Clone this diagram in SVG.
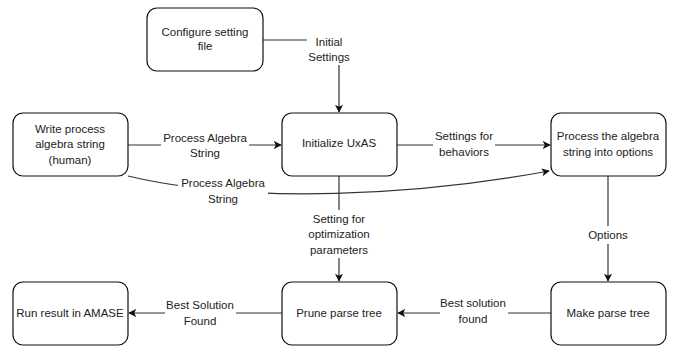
<svg xmlns="http://www.w3.org/2000/svg" width="676" height="349" viewBox="0 0 676 349">
<defs>
<marker id="arr" viewBox="0 0 10 10" refX="9" refY="5" markerWidth="8" markerHeight="8" markerUnits="userSpaceOnUse" orient="auto">
<path d="M0,0 L10,5 L0,10 L2.5,5 z" fill="#111"/>
</marker>
<style>
.box{fill:#fff;stroke:#111;stroke-width:1.2}
.t{font-family:"Liberation Sans",Arial,sans-serif;font-size:11.5px;fill:#222;text-anchor:middle}
.e{fill:none;stroke:#333;stroke-width:1.2}
.bg{fill:#fff}
</style>
</defs>
<rect width="676" height="349" fill="#fff"/>
<g id="connectors">
<path class="e" d="M263 40 H339 V112" marker-end="url(#arr)"/>
<path class="e" d="M128 145 H281" marker-end="url(#arr)"/>
<path class="e" d="M397 145 H550" marker-end="url(#arr)"/>
<path class="e" d="M128 176 C250 205 420 195 549 171" marker-end="url(#arr)"/>
<path class="e" d="M339 176 V281" marker-end="url(#arr)"/>
<path class="e" d="M608 176 V281" marker-end="url(#arr)"/>
<path class="e" d="M551 313 H398" marker-end="url(#arr)"/>
<path class="e" d="M282 313 H129" marker-end="url(#arr)"/>
<rect class="bg" x="307" y="33" width="44" height="32"/>
<text class="t" x="329" y="46">Initial</text>
<text class="t" x="329" y="61">Settings</text>
<rect class="bg" x="161" y="130" width="88" height="30"/>
<text class="t" x="205" y="142">Process Algebra</text>
<text class="t" x="205" y="157">String</text>
<rect class="bg" x="433" y="128" width="62" height="32"/>
<text class="t" x="464" y="140">Settings for</text>
<text class="t" x="464" y="156">behaviors</text>
<rect class="bg" x="178" y="176" width="90" height="31"/>
<text class="t" x="223" y="187">Process Algebra</text>
<text class="t" x="223" y="203">String</text>
<rect class="bg" x="306" y="210" width="66" height="48"/>
<text class="t" x="339" y="223">Setting for</text>
<text class="t" x="339" y="238">optimization</text>
<text class="t" x="339" y="254">parameters</text>
<rect class="bg" x="587" y="226" width="42" height="18"/>
<text class="t" x="608" y="239">Options</text>
<rect class="bg" x="440" y="296" width="68" height="30"/>
<text class="t" x="473" y="307">Best solution</text>
<text class="t" x="473" y="323">found</text>
<rect class="bg" x="165" y="297" width="71" height="30"/>
<text class="t" x="200" y="309">Best Solution</text>
<text class="t" x="200" y="325">Found</text>
</g>
<g id="configure">
<rect class="box" x="147" y="8" width="116" height="63" rx="10"/>
<text class="t" x="205" y="36">Configure setting</text>
<text class="t" x="205" y="50">file</text>
</g>
<g id="write">
<rect class="box" x="13" y="113" width="115" height="63" rx="10"/>
<text class="t" x="70" y="133">Write process</text>
<text class="t" x="70" y="148">algebra string</text>
<text class="t" x="70" y="164">(human)</text>
</g>
<g id="init">
<rect class="box" x="282" y="113" width="115" height="63" rx="10"/>
<text class="t" x="339" y="147">Initialize UxAS</text>
</g>
<g id="process">
<rect class="box" x="551" y="113" width="115" height="63" rx="10"/>
<text class="t" x="608" y="140">Process the algebra</text>
<text class="t" x="608" y="156">string into options</text>
</g>
<g id="run">
<rect class="box" x="13" y="282" width="115" height="63" rx="10"/>
<text class="t" x="70" y="317">Run result in AMASE</text>
</g>
<g id="prune">
<rect class="box" x="282" y="282" width="115" height="63" rx="10"/>
<text class="t" x="339" y="317">Prune parse tree</text>
</g>
<g id="make">
<rect class="box" x="551" y="282" width="115" height="63" rx="10"/>
<text class="t" x="608" y="317">Make parse tree</text>
</g>
</svg>
